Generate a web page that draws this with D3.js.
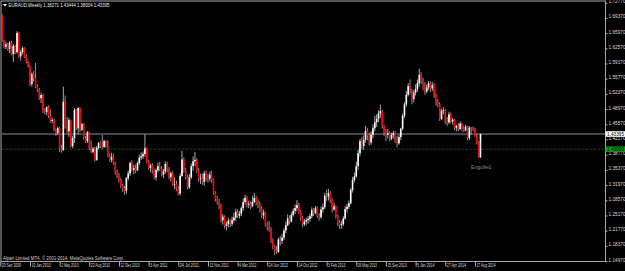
<!DOCTYPE html>
<html>
<head>
<meta charset="utf-8">
<script src="https://cdn.jsdelivr.net/npm/d3@7"></script>
<style>
  html, body { margin: 0; padding: 0; background: #000; overflow: hidden; }
  svg { display: block; }
  text { font-family: "Liberation Sans", Arial, sans-serif; }
</style>
</head>
<body>
<svg id="chart" width="625" height="271"></svg>
<script>
// EURAUD weekly candles, 20 Sep 2009 .. 7 Sep 2014 (one entry per week).
const opens = [
  1.690,1.700,1.644,1.629,1.635,1.624,1.638,1.613,1.631,1.617,1.660,1.608,1.617,1.626,1.606,1.595,
  1.586,1.546,1.568,1.559,1.539,1.532,1.514,1.521,1.488,1.483,1.494,1.474,1.463,1.465,1.443,1.436,
  1.447,1.402,1.398,1.506,1.449,1.440,1.465,1.407,1.425,1.488,1.447,1.492,1.443,1.456,1.425,1.418,
  1.438,1.403,1.394,1.401,1.376,1.403,1.414,1.407,1.405,1.418,1.407,1.385,1.376,1.383,1.369,1.349,
  1.340,1.332,1.318,1.312,1.307,1.335,1.346,1.369,1.354,1.358,1.353,1.369,1.381,1.384,1.389,1.402,
  1.372,1.358,1.364,1.352,1.337,1.353,1.362,1.356,1.343,1.350,1.367,1.355,1.338,1.346,1.321,1.322,
  1.312,1.301,1.340,1.377,1.352,1.338,1.315,1.337,1.362,1.373,1.376,1.352,1.334,1.336,1.327,1.346,
  1.337,1.334,1.343,1.332,1.302,1.289,1.282,1.275,1.241,1.249,1.228,1.232,1.240,1.233,1.241,1.247,
  1.260,1.251,1.256,1.268,1.282,1.291,1.276,1.278,1.272,1.282,1.291,1.280,1.278,1.265,1.252,1.258,
  1.231,1.226,1.222,1.196,1.183,1.172,1.170,1.198,1.195,1.202,1.218,1.230,1.245,1.238,1.253,1.262,
  1.268,1.275,1.259,1.246,1.232,1.238,1.241,1.244,1.250,1.264,1.257,1.268,1.250,1.248,1.265,1.270,
  1.296,1.294,1.302,1.286,1.265,1.272,1.250,1.235,1.230,1.232,1.245,1.266,1.271,1.279,1.309,1.331,
  1.339,1.362,1.391,1.418,1.407,1.421,1.441,1.431,1.415,1.432,1.447,1.460,1.468,1.480,1.485,1.452,
  1.437,1.432,1.436,1.423,1.432,1.436,1.418,1.413,1.427,1.446,1.475,1.500,1.522,1.541,1.528,1.512,
  1.527,1.535,1.548,1.566,1.552,1.545,1.529,1.538,1.548,1.536,1.543,1.522,1.503,1.500,1.468,1.486,
  1.487,1.462,1.460,1.478,1.462,1.466,1.448,1.452,1.445,1.457,1.446,1.442,1.450,1.425,1.448,1.447,
  1.446,1.432,1.415,1.38271
];
const highs = [
  1.705,1.702,1.645,1.640,1.638,1.642,1.643,1.636,1.633,1.664,1.662,1.622,1.630,1.628,1.612,1.598,
  1.588,1.572,1.575,1.593,1.545,1.537,1.526,1.524,1.492,1.496,1.498,1.488,1.470,1.468,1.447,1.451,
  1.450,1.410,1.540,1.520,1.472,1.470,1.466,1.430,1.492,1.490,1.494,1.494,1.459,1.458,1.430,1.441,
  1.440,1.420,1.405,1.405,1.407,1.416,1.418,1.432,1.421,1.420,1.420,1.390,1.392,1.390,1.372,1.355,
  1.347,1.336,1.322,1.318,1.338,1.352,1.372,1.375,1.365,1.366,1.373,1.388,1.393,1.395,1.434,1.404,
  1.376,1.368,1.369,1.356,1.357,1.370,1.372,1.362,1.356,1.373,1.372,1.360,1.350,1.350,1.337,1.330,
  1.318,1.346,1.396,1.382,1.358,1.343,1.345,1.368,1.384,1.394,1.380,1.358,1.345,1.345,1.352,1.352,
  1.345,1.350,1.352,1.334,1.306,1.296,1.289,1.278,1.255,1.252,1.238,1.247,1.244,1.249,1.258,1.267,
  1.266,1.262,1.272,1.290,1.298,1.296,1.285,1.283,1.296,1.302,1.296,1.288,1.283,1.272,1.265,1.260,
  1.238,1.240,1.226,1.200,1.186,1.184,1.202,1.206,1.210,1.223,1.238,1.254,1.252,1.259,1.268,1.276,
  1.286,1.280,1.264,1.250,1.244,1.247,1.250,1.256,1.270,1.268,1.273,1.272,1.257,1.272,1.278,1.302,
  1.310,1.311,1.306,1.290,1.280,1.275,1.254,1.242,1.240,1.250,1.272,1.278,1.285,1.313,1.338,1.348,
  1.372,1.399,1.423,1.428,1.431,1.452,1.448,1.437,1.440,1.456,1.475,1.478,1.487,1.500,1.488,1.455,
  1.445,1.445,1.440,1.437,1.441,1.440,1.430,1.432,1.448,1.480,1.505,1.530,1.548,1.556,1.535,1.532,
  1.545,1.556,1.580,1.572,1.560,1.550,1.545,1.553,1.552,1.550,1.548,1.525,1.512,1.505,1.490,1.494,
  1.490,1.472,1.484,1.482,1.470,1.468,1.455,1.458,1.462,1.460,1.452,1.455,1.452,1.452,1.450,1.451,
  1.448,1.435,1.418,1.43444
];
const lows = [
  1.685,1.640,1.625,1.624,1.620,1.615,1.610,1.595,1.612,1.614,1.604,1.598,1.612,1.604,1.592,1.583,
  1.542,1.540,1.551,1.537,1.528,1.510,1.503,1.481,1.478,1.476,1.470,1.459,1.458,1.440,1.430,1.432,
  1.394,1.392,1.396,1.446,1.437,1.427,1.404,1.402,1.414,1.443,1.433,1.438,1.441,1.421,1.414,1.414,
  1.398,1.391,1.390,1.372,1.374,1.400,1.402,1.400,1.403,1.403,1.382,1.372,1.370,1.365,1.343,1.335,
  1.325,1.313,1.304,1.298,1.300,1.330,1.340,1.350,1.344,1.346,1.351,1.364,1.376,1.378,1.383,1.368,
  1.354,1.348,1.346,1.333,1.330,1.348,1.351,1.339,1.335,1.345,1.348,1.333,1.328,1.318,1.310,1.306,
  1.297,1.296,1.338,1.347,1.332,1.310,1.311,1.333,1.352,1.362,1.346,1.327,1.322,1.320,1.318,1.328,
  1.325,1.328,1.324,1.298,1.283,1.276,1.266,1.236,1.231,1.222,1.218,1.225,1.226,1.228,1.236,1.240,
  1.246,1.245,1.250,1.262,1.276,1.270,1.268,1.266,1.270,1.279,1.274,1.268,1.258,1.246,1.243,1.227,
  1.218,1.215,1.190,1.176,1.163,1.166,1.168,1.184,1.188,1.196,1.212,1.228,1.232,1.236,1.249,1.255,
  1.261,1.255,1.240,1.226,1.228,1.230,1.233,1.238,1.245,1.250,1.254,1.246,1.240,1.244,1.258,1.266,
  1.284,1.285,1.280,1.258,1.262,1.245,1.228,1.221,1.222,1.228,1.242,1.258,1.266,1.276,1.303,1.326,
  1.336,1.354,1.384,1.400,1.398,1.415,1.420,1.408,1.410,1.424,1.440,1.450,1.460,1.470,1.446,1.430,
  1.418,1.424,1.418,1.420,1.424,1.414,1.404,1.410,1.420,1.442,1.470,1.495,1.518,1.522,1.500,1.505,
  1.520,1.528,1.540,1.545,1.532,1.522,1.525,1.532,1.528,1.530,1.515,1.497,1.494,1.463,1.465,1.478,
  1.456,1.452,1.456,1.458,1.455,1.443,1.440,1.440,1.443,1.440,1.438,1.440,1.420,1.420,1.432,1.440,
  1.428,1.410,1.380,1.38004
];
const closes = [
  1.700,1.644,1.629,1.635,1.624,1.638,1.613,1.631,1.617,1.660,1.608,1.617,1.626,1.606,1.595,1.586,
  1.546,1.568,1.559,1.539,1.532,1.514,1.521,1.488,1.483,1.494,1.474,1.463,1.465,1.443,1.436,1.447,
  1.402,1.398,1.506,1.449,1.440,1.465,1.407,1.425,1.488,1.447,1.492,1.443,1.456,1.425,1.418,1.438,
  1.403,1.394,1.401,1.376,1.403,1.414,1.407,1.405,1.418,1.407,1.385,1.376,1.383,1.369,1.349,1.340,
  1.332,1.318,1.312,1.307,1.335,1.346,1.369,1.354,1.358,1.353,1.369,1.381,1.384,1.389,1.402,1.372,
  1.358,1.364,1.352,1.337,1.353,1.362,1.356,1.343,1.350,1.367,1.355,1.338,1.346,1.321,1.322,1.312,
  1.301,1.340,1.377,1.352,1.338,1.315,1.337,1.362,1.373,1.376,1.352,1.334,1.336,1.327,1.346,1.337,
  1.334,1.343,1.332,1.302,1.289,1.282,1.275,1.241,1.249,1.228,1.232,1.240,1.233,1.241,1.247,1.260,
  1.251,1.256,1.268,1.282,1.291,1.276,1.278,1.272,1.282,1.291,1.280,1.278,1.265,1.252,1.258,1.231,
  1.226,1.222,1.196,1.183,1.172,1.170,1.198,1.195,1.202,1.218,1.230,1.245,1.238,1.253,1.262,1.268,
  1.275,1.259,1.246,1.232,1.238,1.241,1.244,1.250,1.264,1.257,1.268,1.250,1.248,1.265,1.270,1.296,
  1.294,1.302,1.286,1.265,1.272,1.250,1.235,1.230,1.232,1.245,1.266,1.271,1.279,1.309,1.331,1.339,
  1.362,1.391,1.418,1.407,1.421,1.441,1.431,1.415,1.432,1.447,1.460,1.468,1.480,1.485,1.452,1.437,
  1.432,1.436,1.423,1.432,1.436,1.418,1.413,1.427,1.446,1.475,1.500,1.522,1.541,1.528,1.512,1.527,
  1.535,1.548,1.566,1.552,1.545,1.529,1.538,1.548,1.536,1.543,1.522,1.503,1.500,1.468,1.486,1.487,
  1.462,1.460,1.478,1.462,1.466,1.448,1.452,1.445,1.457,1.446,1.442,1.450,1.425,1.448,1.447,1.446,
  1.432,1.415,1.38271,1.43395
];

// price scale labels on the right
const priceTicks = [1.72770,1.69370,1.65970,1.62570,1.59170,1.55770,1.52370,1.48970,1.45570,
  1.42170,1.38770,1.35370,1.31970,1.28570,1.25170,1.21770,1.18370,1.14970];

// time scale labels, every 16th bar
const dateIdx = [0,16,32,48,64,80,96,112,128,144,160,176,192,208,224,240,256];
const dateLabels = ["20 Sep 2009","10 Jan 2010","2 May 2010","22 Aug 2010","12 Dec 2010",
  "3 Apr 2011","24 Jul 2011","13 Nov 2011","4 Mar 2012","24 Jun 2012","14 Oct 2012",
  "3 Feb 2013","26 May 2013","15 Sep 2013","5 Jan 2014","27 Apr 2014","17 Aug 2014"];

const bidPrice = 1.43395;
const levelPrice = 1.40000;
const header = "EURAUD,Weekly  1.38271 1.43444 1.38004 1.43395";
const footer = "Alpari Limited MT4, \u00A9 2001-2014, MetaQuotes Software Corp.";

const W = 625, H = 271;
const plotL = 1.5, plotR = 605.5, plotT = 1.5, plotB = 261.5;

const svg = d3.select("#chart");
svg.append("rect").attr("width", W).attr("height", H).attr("fill", "#000");

const x = d3.scaleLinear().domain([0, closes.length - 1]).range([0.3, 0.3 + 259 * 1.854]);
const y = d3.scaleLinear().domain([1.14970, 1.72770]).range([261.06, 2.70]);

svg.append("defs").append("clipPath").attr("id", "plot")
  .append("rect").attr("x", plotL).attr("y", plotT)
  .attr("width", plotR - plotL).attr("height", plotB - plotT);

const plot = svg.append("g").attr("clip-path", "url(#plot)");

// level line (dotted green) and bid line (slate gray)
plot.append("line")
  .attr("x1", plotL).attr("x2", plotR)
  .attr("y1", y(levelPrice)).attr("y2", y(levelPrice))
  .attr("stroke", "#1d7a1d").attr("stroke-width", 0.8).attr("stroke-dasharray", "2,2");
plot.append("line")
  .attr("x1", plotL).attr("x2", plotR)
  .attr("y1", y(bidPrice)).attr("y2", y(bidPrice))
  .attr("stroke", "#84909e").attr("stroke-width", 1);

const bars = closes.map((c, i) => ({ i, o: opens[i], h: highs[i], l: lows[i], c }));

const candle = plot.append("g").selectAll("g").data(bars).enter().append("g");
candle.append("line")
  .attr("x1", d => x(d.i)).attr("x2", d => x(d.i))
  .attr("y1", d => y(d.h)).attr("y2", d => y(d.l))
  .attr("stroke", d => d.c >= d.o ? "#bcbcbc" : "#a0a0a0")
  .attr("stroke-width", 0.9);
candle.append("rect")
  .attr("x", d => x(d.i) - 0.8)
  .attr("width", 1.6)
  .attr("y", d => y(Math.max(d.o, d.c)))
  .attr("height", d => Math.max(0.6, Math.abs(y(d.o) - y(d.c))))
  .attr("fill", d => d.c >= d.o ? "#ffffff" : "#ff0000");

// frame
svg.append("rect")
  .attr("x", 1).attr("y", 1).attr("width", plotR - 1).attr("height", plotB - 1)
  .attr("fill", "none").attr("stroke", "#a8a8a8").attr("stroke-width", 1);

// price axis
const yAxis = svg.append("g")
  .attr("transform", `translate(${plotR},0)`)
  .call(d3.axisRight(y).tickValues(priceTicks).tickSize(2).tickPadding(1)
    .tickFormat(d => d.toFixed(5)));
yAxis.select(".domain").remove();
yAxis.selectAll("line").attr("stroke", "#b0b0b0");
yAxis.selectAll("text")
  .attr("fill", "#d8d8d8").attr("font-size", 4.8).attr("dy", "0.32em")
  .attr("y", -1.5)
  .attr("textLength", 17).attr("lengthAdjust", "spacingAndGlyphs");

// time axis
const xAxis = svg.append("g")
  .attr("transform", `translate(0,${plotB})`)
  .call(d3.axisBottom(x).tickValues(dateIdx).tickSize(5)
    .tickFormat((d, k) => dateLabels[k]));
xAxis.select(".domain").remove();
xAxis.selectAll("line").attr("stroke", "#b0b0b0");
xAxis.selectAll("text")
  .attr("fill", "#d8d8d8").attr("font-size", 4.8)
  .attr("text-anchor", "start").attr("x", 1).attr("y", 2.2).attr("dy", "0.71em")
  .attr("textLength", (d, k) => dateLabels[k].length * 1.74)
  .attr("lengthAdjust", "spacingAndGlyphs");

// price boxes on the axis
function priceBox(p, fill, label) {
  const g = svg.append("g");
  g.append("rect").attr("x", plotR).attr("y", y(p) - 2.8)
    .attr("width", W - plotR).attr("height", 5.6).attr("fill", fill);
  g.append("text").attr("x", 607).attr("y", y(p)).attr("dy", "0.34em")
    .attr("font-size", 4.8).attr("fill", "#000")
    .attr("textLength", 17).attr("lengthAdjust", "spacingAndGlyphs")
    .text(label);
}
priceBox(levelPrice, "#0f9b0f", levelPrice.toFixed(5));
priceBox(bidPrice, "#ffffff", bidPrice.toFixed(5));

// header
svg.append("path").attr("d", "M3,4 L7,4 L5,6.5 Z").attr("fill", "#fff");
svg.append("text").attr("x", 8.5).attr("y", 6.9)
  .attr("font-size", 5).attr("fill", "#e8e8e8")
  .attr("textLength", 101).attr("lengthAdjust", "spacingAndGlyphs")
  .text(header);

// footer
svg.append("text").attr("x", 3).attr("y", 260.4)
  .attr("font-size", 4.8).attr("fill", "#d0d0d0")
  .attr("textLength", 121).attr("lengthAdjust", "spacingAndGlyphs")
  .text(footer);

// pattern note under the last candle
svg.append("text").attr("x", 471).attr("y", 168.5)
  .attr("font-size", 5).attr("fill", "#8a8a8a")
  .attr("textLength", 20).attr("lengthAdjust", "spacingAndGlyphs")
  .text("Engulfed");
</script>
</body>
</html>
